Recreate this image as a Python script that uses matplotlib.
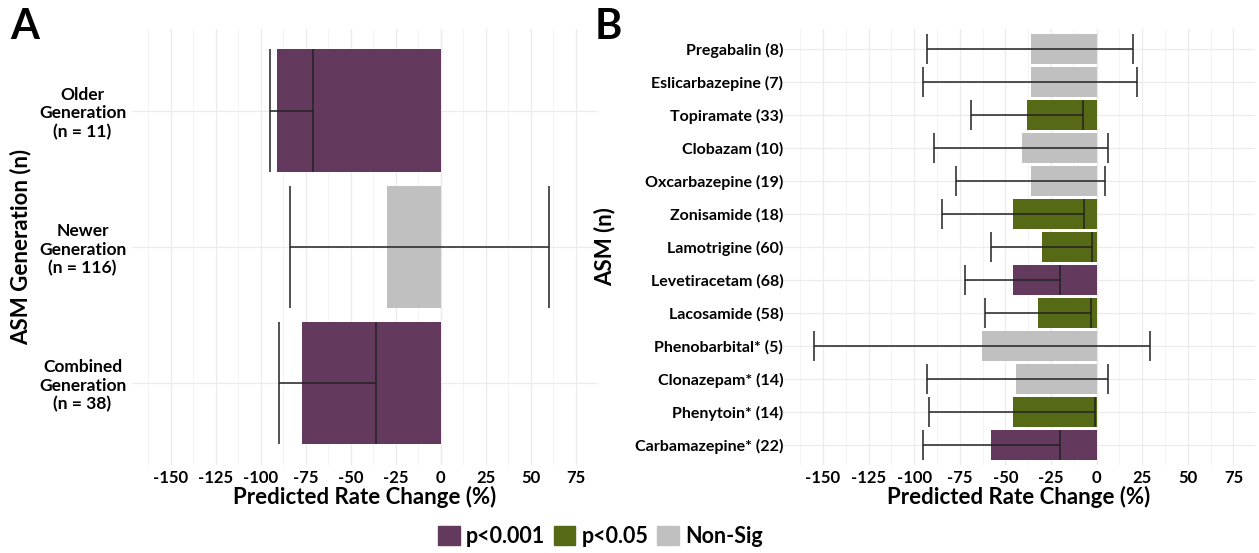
import numpy as np
import matplotlib
matplotlib.use("Agg")
import matplotlib.pyplot as plt
from matplotlib.patches import Patch

plt.rcParams['font.family'] = ['Lato', 'DejaVu Sans']
plt.rcParams['font.weight'] = 'bold'
plt.rcParams['axes.unicode_minus'] = False

# colours for the significance groups
sig_colors = {"p<0.001": "#633a5e", "p<0.05": "#566a15", "Non-Sig": "#c0c0c0"}

# panel A data
gen_labels = ["Older\nGeneration\n(n = 11)", "Newer\nGeneration\n(n = 116)", "Combined\nGeneration\n(n = 38)"]
gen_est = [-91, -30, -77]
gen_lo = [-95, -84, -90]
gen_hi = [-71, 60, -36]
gen_sig = ["p<0.001", "Non-Sig", "p<0.001"]

# panel B data
asm_labels = ["Pregabalin (8)", "Eslicarbazepine (7)", "Topiramate (33)", "Clobazam (10)",
              "Oxcarbazepine (19)", "Zonisamide (18)", "Lamotrigine (60)", "Levetiracetam (68)",
              "Lacosamide (58)", "Phenobarbital* (5)", "Clonazepam* (14)", "Phenytoin* (14)",
              "Carbamazepine* (22)"]
asm_est = [-36, -36, -38, -41, -36, -46, -30, -46, -32, -63, -44, -46, -58]
asm_lo = [-93, -95, -69, -89, -77, -85, -58, -72, -61, -155, -93, -92, -95]
asm_hi = [20, 22, -7.5, 6.5, 4.5, -7, -2.5, -20, -3, 29, 6, -0.7, -20]
asm_sig = ["Non-Sig", "Non-Sig", "p<0.05", "Non-Sig", "Non-Sig", "p<0.05", "p<0.05",
           "p<0.001", "p<0.05", "Non-Sig", "Non-Sig", "p<0.05", "p<0.001"]

xticks = [-150, -125, -100, -75, -50, -25, 0, 25, 50, 75]


def draw_panel(ax, labels, est, lo, hi, sig, ylabel, ysize, ypad):
    y = np.arange(len(labels))
    # grid like theme_minimal
    ax.set_xticks(xticks)
    ax.set_xticks(np.arange(-162.5, 87, 25), minor=True)
    ax.grid(True, which="major", color="#ebebeb", lw=0.9)
    ax.grid(True, which="minor", axis="x", color="#f3f3f3", lw=0.7)
    ax.set_axisbelow(True)
    ax.axvline(0, color="#bdbdbd", lw=0.8, ls=(0, (4, 3)), zorder=0.5)

    ax.barh(y, est, height=0.9, color=[sig_colors[s] for s in sig], zorder=2)
    # error bars with caps as tall as the bars
    ax.hlines(y, lo, hi, color="#222222", lw=1.1, zorder=3)
    ax.vlines(lo, y - 0.45, y + 0.45, color="#222222", lw=1.1, zorder=3)
    ax.vlines(hi, y - 0.45, y + 0.45, color="#222222", lw=1.1, zorder=3)

    ax.set_yticks(y)
    ax.set_yticklabels(labels, fontsize=ysize, fontweight="bold", ha="right")
    ax.set_xlim(-171.75, 86.75)
    ax.set_ylim(len(labels) - 0.4, -0.6)
    ax.tick_params(which="both", length=0, pad=4)
    ax.tick_params(axis="y", pad=ypad)
    for t in ax.get_xticklabels():
        t.set_fontsize(12)
        t.set_fontweight("bold")
    ax.set_xlabel("Predicted Rate Change (%)", fontsize=16, fontweight="bold", labelpad=0)
    ax.set_ylabel(ylabel, fontsize=16, fontweight="bold")
    for s in ax.spines.values():
        s.set_visible(False)


fig = plt.figure(figsize=(12.59, 5.53), dpi=100)
axA = fig.add_axes([0.1046, 0.1595, 0.3693, 0.788])
axB = fig.add_axes([0.6222, 0.1595, 0.3745, 0.788])

draw_panel(axA, gen_labels, gen_est, gen_lo, gen_hi, gen_sig, "ASM Generation (n)", 12.5, 4)
for t in axA.get_yticklabels():
    t.set_multialignment("center")
axA.yaxis.set_label_coords(-0.215, 0.5)
draw_panel(axB, asm_labels, asm_est, asm_lo, asm_hi, asm_sig, "ASM (n)", 11.5, 0)
axB.yaxis.set_label_coords(-0.355, 0.5)

fig.text(0.008, 0.985, "A", fontsize=30, fontweight="bold", va="top")
fig.text(0.472, 0.985, "B", fontsize=30, fontweight="bold", va="top")

handles = [Patch(color=c, label=k) for k, c in sig_colors.items()]
fig.legend(handles=handles, loc="center", bbox_to_anchor=(0.477, 0.03), ncol=3, frameon=False,
           prop={"size": 15.5, "weight": "bold"}, handlelength=1.0, handleheight=1.0,
           handletextpad=0.3, columnspacing=0.4)

fig.savefig("out.png", dpi=100)
